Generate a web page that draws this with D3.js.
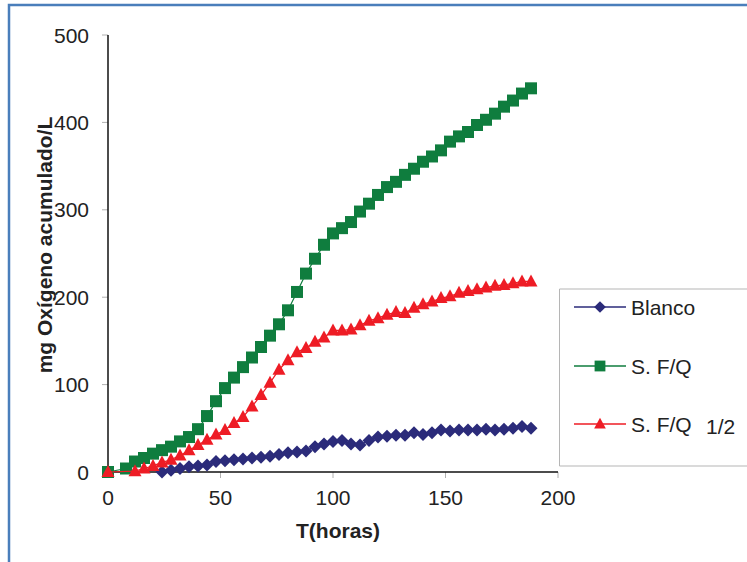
<!DOCTYPE html>
<html>
<head>
<meta charset="utf-8">
<script src="https://cdnjs.cloudflare.com/ajax/libs/d3/7.8.5/d3.min.js"></script>
<style>
  body { margin: 0; background: #fff; }
  svg { display: block; font-family: "Liberation Sans", Arial, sans-serif; }
</style>
</head>
<body>
<div id="chart"></div>
<script>
"use strict";

// data (hours, mg O2 / L)
var blancoHours = [24, 28, 32, 36, 40, 44, 48, 52, 56, 60, 64, 68, 72, 76, 80, 84, 88, 92, 96, 100,
                   104, 108, 112, 116, 120, 124, 128, 132, 136, 140, 144, 148, 152, 156, 160, 164, 168, 172, 176, 180, 184, 188];
var blancoVals  = [0, 2, 4, 6, 7, 8, 12, 13, 14, 15, 16, 17, 18, 20, 22, 23, 24, 29, 32, 35,
                   36, 32, 31, 36, 40, 41, 42, 42, 45, 43, 45, 48, 47, 48, 48, 48, 49, 48, 49, 50, 52, 50];

var sfqHours = [0, 8, 12, 16, 20, 24, 28, 32, 36, 40, 44, 48, 52, 56, 60, 64, 68, 72, 76, 80, 84, 88, 92, 96,
                100, 104, 108, 112, 116, 120, 124, 128, 132, 136, 140, 144, 148, 152, 156, 160, 164, 168, 172, 176, 180, 184, 188];
var sfqVals  = [0, 4, 12, 16, 21, 25, 29, 35, 40, 49, 64, 81, 96, 108, 120, 131, 143, 156, 169, 185, 206, 227, 244, 260,
                273, 279, 286, 298, 307, 317, 326, 332, 340, 347, 355, 361, 368, 378, 384, 389, 397, 403, 410, 418, 425, 433, 439];

var sfqHalfHours = [0, 12, 16, 20, 24, 28, 32, 36, 40, 44, 48, 52, 56, 60, 64, 68, 72, 76, 80, 84, 88, 92, 96,
                    100, 104, 108, 112, 116, 120, 124, 128, 132, 136, 140, 144, 148, 152, 156, 160, 164, 168, 172, 176, 180, 184, 188];
var sfqHalfVals  = [0, 1, 4, 7, 11, 14, 19, 25, 31, 37, 43, 48, 56, 63, 75, 88, 102, 117, 128, 137, 142, 149, 154,
                    162, 162, 163, 168, 173, 176, 180, 183, 182, 188, 192, 195, 199, 201, 205, 207, 209, 211, 213, 214, 216, 218, 218];

var xTicks = [0, 50, 100, 150, 200];
var yTicks = [0, 100, 200, 300, 400, 500];

var width = 747, height = 562;

var svg = d3.select("#chart")
            .append("svg")
            .attr("width", width)
            .attr("height", height);

// blue frame, cut at right and bottom
svg.append("path")
   .attr("d", "M9,562 V5 H747")
   .attr("fill", "none")
   .attr("stroke", "#4a7ebb")
   .attr("stroke-width", 2.5);

var x = d3.scaleLinear().domain([0, 200]).range([108, 558]);
var y = d3.scaleLinear().domain([0, 500]).range([472, 35]);

// tick marks (grey)
svg.append("g").selectAll("line")
   .data(yTicks)
   .enter()
   .append("line")
   .attr("x1", 102).attr("x2", 108)
   .attr("y1", function(d) { return y(d); })
   .attr("y2", function(d) { return y(d); })
   .attr("stroke", "#b0b0b0");

svg.append("g").selectAll("line")
   .data(xTicks)
   .enter()
   .append("line")
   .attr("y1", 472).attr("y2", 478)
   .attr("x1", function(d) { return x(d); })
   .attr("x2", function(d) { return x(d); })
   .attr("stroke", "#b0b0b0");

// tick labels
svg.append("g").selectAll("text")
   .data(yTicks)
   .enter()
   .append("text")
   .attr("x", 89)
   .attr("y", function(d) { return y(d) + 7.5; })
   .attr("text-anchor", "end")
   .attr("font-size", 21)
   .attr("fill", "#222")
   .text(function(d) { return d; });

svg.append("g").selectAll("text")
   .data(xTicks)
   .enter()
   .append("text")
   .attr("x", function(d) { return x(d); })
   .attr("y", 505)
   .attr("text-anchor", "middle")
   .attr("font-size", 21)
   .attr("fill", "#222")
   .text(function(d) { return d; });

// axis lines
svg.append("line")
   .attr("x1", 108).attr("x2", 108).attr("y1", y(500)).attr("y2", y(0))
   .attr("stroke", "#111").attr("stroke-width", 1.5);
svg.append("line")
   .attr("x1", x(0)).attr("x2", x(200)).attr("y1", 472).attr("y2", 472)
   .attr("stroke", "#111").attr("stroke-width", 1.5);

// titles
svg.append("text")
   .attr("x", 338).attr("y", 538)
   .attr("text-anchor", "middle")
   .attr("font-size", 21).attr("font-weight", "bold")
   .attr("fill", "#222")
   .text("T(horas)");

svg.append("text")
   .attr("transform", "translate(52,245) rotate(-90)")
   .attr("text-anchor", "middle")
   .attr("font-size", 21).attr("font-weight", "bold")
   .attr("fill", "#222")
   .text("mg Oxígeno acumulado/L");

// marker shapes
var diamond = "M0,-6.5 L6.5,0 L0,6.5 L-6.5,0 Z";
var square = "M-6,-6 H6 V6 H-6 Z";
var triangle = "M0,-7 L6.5,5 L-6.5,5 Z";

var series = [
  { name: "Blanco", hours: blancoHours, vals: blancoVals, color: "#2b2b7a", shape: diamond },
  { name: "S. F/Q", hours: sfqHours, vals: sfqVals, color: "#0f7d3e", shape: square },
  { name: "S. F/Q", hours: sfqHalfHours, vals: sfqHalfVals, color: "#ee1c25", shape: triangle }
];

var line = d3.line()
             .x(function(d) { return x(d[0]); })
             .y(function(d) { return y(d[1]); });

series.forEach(function(s) {
  var pts = d3.zip(s.hours, s.vals);
  svg.append("path")
     .datum(pts)
     .attr("d", line)
     .attr("fill", "none")
     .attr("stroke", s.color)
     .attr("stroke-width", 1.2);
  svg.append("g").selectAll("path")
     .data(pts)
     .enter()
     .append("path")
     .attr("d", s.shape)
     .attr("transform", function(d) { return "translate(" + x(d[0]) + "," + y(d[1]) + ")"; })
     .attr("fill", s.color);
});

// legend
svg.append("path")
   .attr("d", "M747,289 H559.5 V466 H747")
   .attr("fill", "none")
   .attr("stroke", "#b5b5b5");

var legendY = [307, 366, 424];
series.forEach(function(s, i) {
  var g = svg.append("g").attr("transform", "translate(0," + legendY[i] + ")");
  g.append("line")
   .attr("x1", 574).attr("x2", 626)
   .attr("stroke", s.color).attr("stroke-width", 1.5);
  g.append("path")
   .attr("d", s.shape)
   .attr("transform", "translate(600,0) scale(0.9)")
   .attr("fill", s.color);
  g.append("text")
   .attr("x", 631).attr("y", 7.5)
   .attr("font-size", 21)
   .attr("fill", "#222")
   .text(s.name);
});
svg.append("text")
   .attr("x", 706).attr("y", legendY[2] + 10)
   .attr("font-size", 21)
   .attr("fill", "#222")
   .text("1/2");
</script>
</body>
</html>
